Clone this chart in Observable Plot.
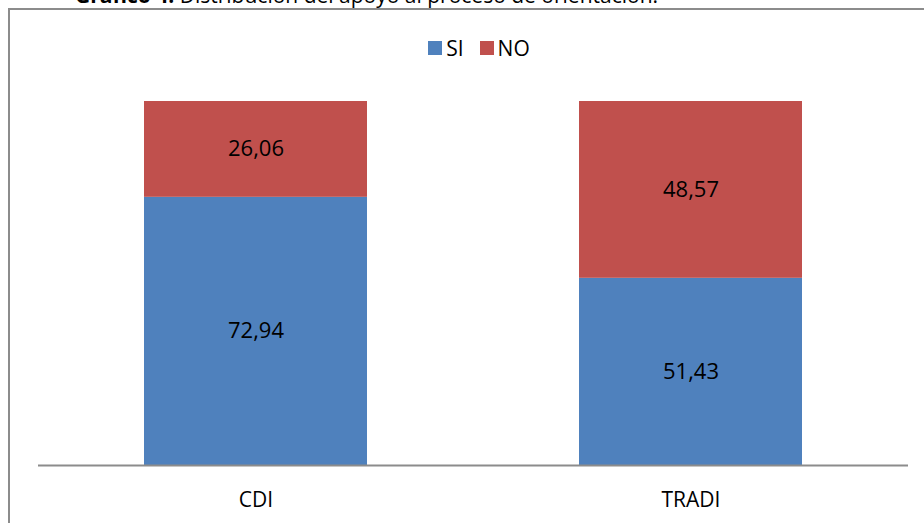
<!DOCTYPE html>
<html>
<head>
<meta charset="utf-8">
<script src="https://cdn.jsdelivr.net/npm/d3@7"></script>
<script src="https://cdn.jsdelivr.net/npm/@observablehq/plot@0.6"></script>
<style>
  html, body { margin: 0; padding: 0; background: #fff; }
  #wrap { position: relative; width: 924px; height: 523px; overflow: hidden; font-family: "Open Sans", sans-serif; }
  #title { position: absolute; left: 75px; top: -15px; font-size: 21px; line-height: 21px; white-space: nowrap; color: #000; }
  #frame { position: absolute; left: 8px; top: 8px; width: 940px; height: 540px; border: 2px solid #8c8c8c; box-sizing: border-box; }
  #legend { position: absolute; left: 0; width: 958px; top: 37px; height: 22px; display: flex; justify-content: center; align-items: center; font-size: 21px; color: #000; }
  #legend .sw { display: inline-block; width: 14px; height: 14px; margin-right: 4px; }
  #legend .item { display: flex; align-items: center; margin: 0 8px; }
  #chart { position: absolute; left: 0; top: 70px; }
</style>
</head>
<body>
<div id="wrap">
  <div id="title"><b>Gráfico 4.</b> Distribución del apoyo al proceso de orientación.</div>
  <div id="frame"></div>
  <div id="legend"></div>
  <div id="chart"></div>
</div>
<script>
const categories = ["CDI", "TRADI"];
const seriesNames = ["SI", "NO"];
const siValues = [72.94, 51.43];
const noValues = [26.06, 48.57];
const colors = ["#4F81BD", "#C0504D"];

const rows = [];
categories.forEach((c, i) => {
  rows.push({cat: c, serie: "SI", value: siValues[i]});
  rows.push({cat: c, serie: "NO", value: noValues[i]});
});

const fmt = v => v.toFixed(2).replace(".", ",");

const legend = document.getElementById("legend");
seriesNames.forEach((s, i) => {
  const it = document.createElement("span");
  it.className = "item";
  it.innerHTML = `<span class="sw" style="background:${colors[i]}"></span><span>${s}</span>`;
  legend.appendChild(it);
});

const chart = Plot.plot({
  width: 924,
  height: 453,
  marginTop: 31,
  marginBottom: 58,
  marginLeft: 38,
  marginRight: 16,
  style: {fontFamily: "Open Sans, sans-serif", background: "transparent", overflow: "visible"},
  x: {domain: categories, paddingInner: 0.488, paddingOuter: 0.244, label: null},
  y: {axis: null, domain: [0, 1]},
  color: {domain: seriesNames, range: colors},
  marks: [
    Plot.barY(rows, Plot.stackY({offset: "normalize", order: seriesNames}, {x: "cat", y: "value", fill: "serie"})),
    Plot.text(rows, Plot.stackY({offset: "normalize", order: seriesNames}, {x: "cat", y: "value", z: "serie", text: d => fmt(d.value), fill: "#000", fontSize: 22})),
    Plot.ruleY([0], {stroke: "#8c8c8c", strokeWidth: 2}),
    Plot.axisX({tickSize: 0, tickPadding: 27, fontSize: 21, fill: "#000", label: null})
  ]
});
document.getElementById("chart").appendChild(chart);
</script>
</body>
</html>
